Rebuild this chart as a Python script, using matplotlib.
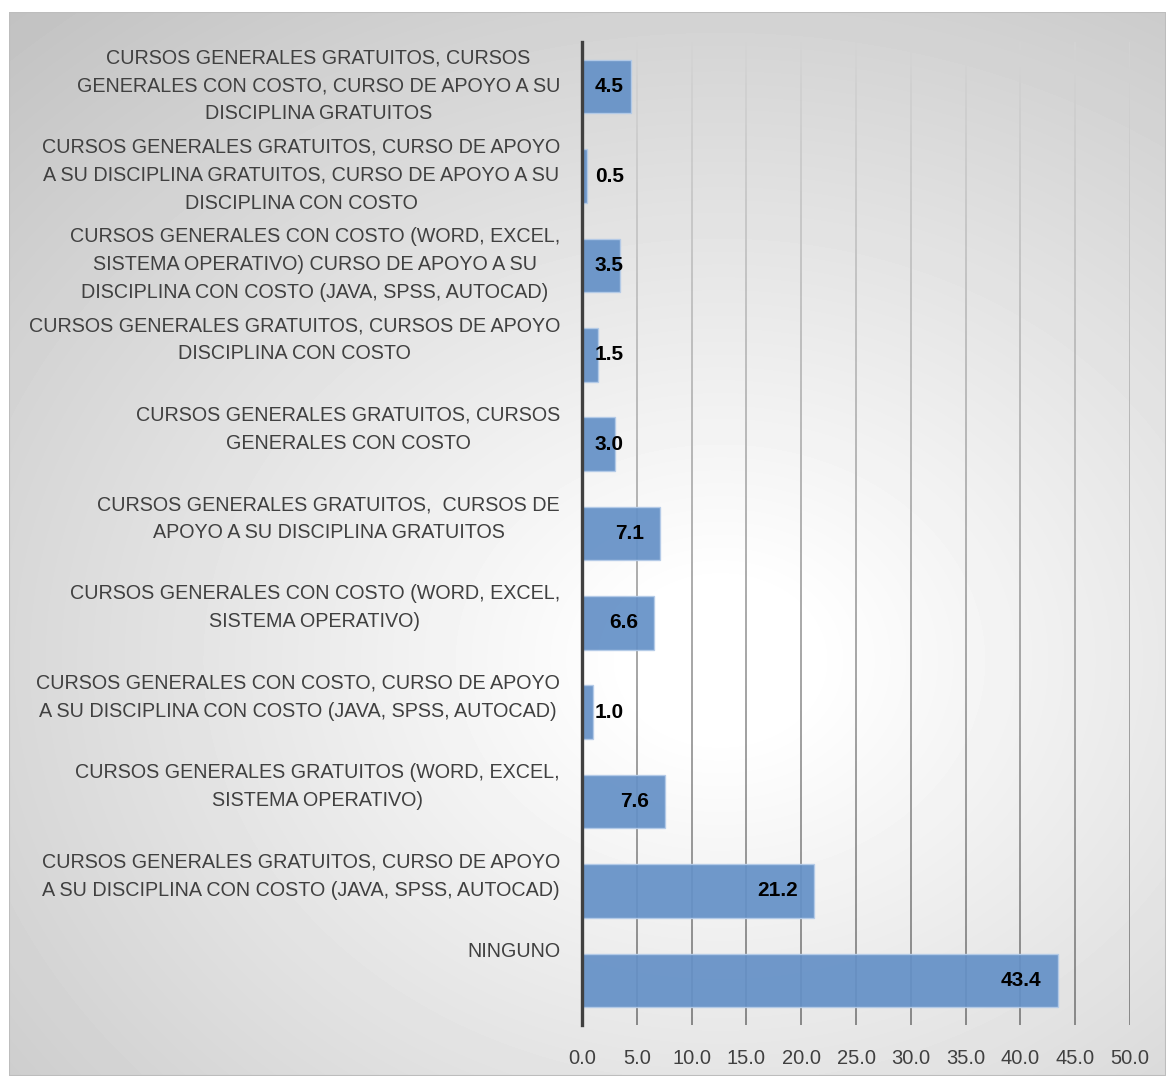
import matplotlib.pyplot as plt
import numpy as np
from matplotlib.collections import LineCollection
from matplotlib.patches import Rectangle

plt.rcParams['font.family'] = ['Liberation Sans', 'DejaVu Sans']

# categories listed top to bottom
categorias = [
    "CURSOS GENERALES GRATUITOS, CURSOS\nGENERALES CON COSTO, CURSO DE APOYO A SU\nDISCIPLINA GRATUITOS",
    "CURSOS GENERALES GRATUITOS, CURSO DE APOYO\nA SU DISCIPLINA GRATUITOS, CURSO DE APOYO A SU\nDISCIPLINA CON COSTO",
    "CURSOS GENERALES CON COSTO (WORD, EXCEL,\nSISTEMA OPERATIVO) CURSO DE APOYO A SU\nDISCIPLINA CON COSTO (JAVA, SPSS, AUTOCAD)",
    "CURSOS GENERALES GRATUITOS, CURSOS DE APOYO\nDISCIPLINA CON COSTO",
    "CURSOS GENERALES GRATUITOS, CURSOS\nGENERALES CON COSTO",
    "CURSOS GENERALES GRATUITOS,  CURSOS DE\nAPOYO A SU DISCIPLINA GRATUITOS",
    "CURSOS GENERALES CON COSTO (WORD, EXCEL,\nSISTEMA OPERATIVO)",
    "CURSOS GENERALES CON COSTO, CURSO DE APOYO\nA SU DISCIPLINA CON COSTO (JAVA, SPSS, AUTOCAD)",
    "CURSOS GENERALES GRATUITOS (WORD, EXCEL,\nSISTEMA OPERATIVO)",
    "CURSOS GENERALES GRATUITOS, CURSO DE APOYO\nA SU DISCIPLINA CON COSTO (JAVA, SPSS, AUTOCAD)",
    "NINGUNO",
]
porcentajes = [4.5, 0.5, 3.5, 1.5, 3.0, 7.1, 6.6, 1.0, 7.6, 21.2, 43.4]
ticks_x = [0, 5, 10, 15, 20, 25, 30, 35, 40, 45, 50]

W, H = 1166, 1076
fig = plt.figure(figsize=(W / 100, H / 100), dpi=100)
fig.patch.set_facecolor('white')

# grey panel with a soft radial highlight
bg = fig.add_axes([9 / W, 0, 1 - 9 / W, 1 - 12 / H])
bg.set_axis_off()
xx, yy = np.meshgrid(np.arange(9, W), np.arange(12, H))
d = np.sqrt(((xx - 720) / 760.0) ** 2 + ((yy - 660) / 620.0) ** 2)
val = 255 - 48 * np.clip(d - 0.12, 0, None)
val = np.clip(val, 190, 255) / 255.0
bg.imshow(val, cmap='gray', vmin=0, vmax=1, aspect='auto', interpolation='bilinear')
bg.add_patch(Rectangle((0, 0), 1, 1, transform=bg.transAxes, fill=False,
                       edgecolor='#bdbdbd', lw=1.5))

ax = fig.add_axes([582 / W, 1 - 1025 / H, 548 / W, (1025 - 42) / H])
ax.patch.set_alpha(0)
ax.set_xlim(0, 50)
ax.set_ylim(len(porcentajes) - 0.5, -0.5)

# vertical gridlines, lighter toward the top
ys = np.linspace(-0.5, len(porcentajes) - 0.5, 120)
for t in ticks_x[1:]:
    pts = np.array([[t, y] for y in ys])
    segs = np.stack([pts[:-1], pts[1:]], axis=1)
    shade = np.linspace(0xd4, 0x80, len(segs)) / 255.0
    cols = np.stack([shade, shade, shade], axis=1)
    ax.add_collection(LineCollection(segs, colors=cols, linewidths=1.3, zorder=1))

pos = np.arange(len(porcentajes))
ax.barh(pos, porcentajes, height=0.6, color='#6591c7', edgecolor='#b4cbe8',
        linewidth=1, alpha=0.93, zorder=2)

for i, v in enumerate(porcentajes):
    ax.text(max(v - 1.46, 3.83), i, f"{v:.1f}", ha='right', va='center',
            fontsize=15, fontweight='bold', color='black', zorder=3)

for i, lab in enumerate(categorias):
    ax.text(-2.0, i - 0.43, lab, ha='right', va='top', multialignment='center',
            fontsize=14.2, color='#404040', linespacing=1.6, clip_on=False)

ax.set_yticks([])
ax.set_xticks(ticks_x)
ax.set_xticklabels([f"{t:.1f}" for t in ticks_x], fontsize=14.5, color='#404040')
ax.tick_params(axis='x', length=0, pad=17)
for s in ['top', 'right', 'bottom']:
    ax.spines[s].set_visible(False)
ax.spines['left'].set_color('#404040')
ax.spines['left'].set_linewidth(2.4)
ax.spines['left'].set_zorder(4)

fig.savefig('out.png', dpi=100)
